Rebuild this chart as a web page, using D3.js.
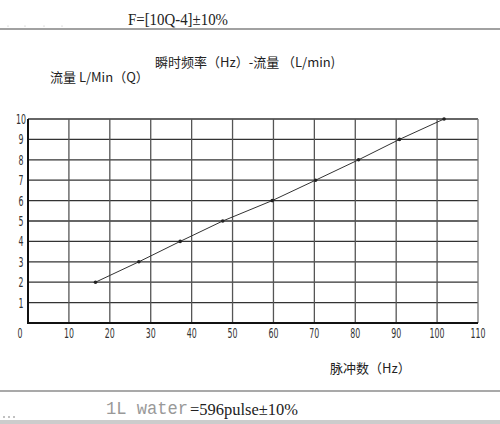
<!DOCTYPE html>
<html>
<head>
<meta charset="utf-8">
<script src="https://cdn.jsdelivr.net/npm/d3@7"></script>
<style>
body { margin: 0; background: #fff; }
svg { display: block; }
.tick-label { font-family: "DejaVu Sans Condensed", "Liberation Sans", sans-serif; font-size: 14.5px; fill: #333; }
.cjk { font-family: "Noto Sans CJK SC", sans-serif; font-size: 13px; fill: #222; }
.serif { font-family: "Liberation Serif", serif; font-size: 17px; fill: #222; }
</style>
</head>
<body>
<div id="chart"></div>
<script>
// pulse frequency (Hz) read for each flow value (L/min)
var frequency = [16.5, 27.1, 37.2, 47.6, 59.7, 70.3, 80.8, 90.8, 101.7];
var flow = [2, 3, 4, 5, 6, 7, 8, 9, 10];
var xTicks = [10, 20, 30, 40, 50, 60, 70, 80, 90, 100, 110];
var yTicks = [1, 2, 3, 4, 5, 6, 7, 8, 9, 10];

var width = 500, height = 424;

var svg = d3.select("#chart").append("svg")
	.attr("width", width)
	.attr("height", height);

var x = d3.scaleLinear().domain([0, 110]).range([28, 478]);
var y = d3.scaleLinear().domain([0, 10]).range([323, 119]);

// header formula and rule
svg.append("text").attr("class", "serif")
	.attr("x", 128).attr("y", 25)
	.attr("textLength", 100).attr("lengthAdjust", "spacingAndGlyphs")
	.text("F=[10Q-4]±10%");
svg.append("line")
	.attr("x1", 0).attr("x2", width).attr("y1", 29).attr("y2", 29)
	.style("stroke", "#444").style("stroke-width", 1.2);
svg.selectAll(".dot-mark").data([8, 25, 44, 62])
	.enter().append("circle")
	.attr("cx", d => d).attr("cy", 26).attr("r", 0.5)
	.style("fill", "#aaa");

// titles
svg.append("text").attr("class", "cjk")
	.attr("x", 155).attr("y", 67)
	.text("瞬时频率（Hz）-流量 （L/min)");
svg.append("text").attr("class", "cjk")
	.attr("x", 50).attr("y", 82)
	.text("流量 L/Min（Q）");
svg.append("text").attr("class", "cjk")
	.attr("x", 330).attr("y", 373)
	.text("脉冲数（Hz）");

// grid
svg.selectAll(".hgrid").data(yTicks)
	.enter().append("line")
	.attr("x1", x(0)).attr("x2", x(110))
	.attr("y1", d => y(d)).attr("y2", d => y(d))
	.style("stroke", "#333").style("stroke-width", 1.3);
svg.selectAll(".vgrid").data(xTicks)
	.enter().append("line")
	.attr("x1", d => x(d)).attr("x2", d => x(d))
	.attr("y1", y(0)).attr("y2", y(10))
	.style("stroke", d => d === 110 ? "#777" : "#555").style("stroke-width", 1.3);

// axes
svg.append("line")
	.attr("x1", x(0)).attr("x2", x(0)).attr("y1", y(0) + 1).attr("y2", y(10))
	.style("stroke", "#111").style("stroke-width", 2);
svg.append("line")
	.attr("x1", x(0)).attr("x2", x(110)).attr("y1", y(0)).attr("y2", y(0))
	.style("stroke", "#111").style("stroke-width", 2);

// tick labels, narrow like the CAD lettering
function narrow(sel) {
	sel.attr("textLength", d => String(d).length * 5)
		.attr("lengthAdjust", "spacingAndGlyphs");
}
svg.selectAll(".xlab").data(xTicks)
	.enter().append("text").attr("class", "tick-label")
	.attr("x", d => x(d)).attr("y", y(0) + 15)
	.attr("text-anchor", "middle")
	.text(d => d)
	.call(narrow);
svg.selectAll(".ylab").data(yTicks)
	.enter().append("text").attr("class", "tick-label")
	.attr("x", 21).attr("y", d => y(d) + 5)
	.attr("text-anchor", "middle")
	.text(d => d)
	.call(narrow);
svg.selectAll(".zero").data([0])
	.enter().append("text").attr("class", "tick-label")
	.attr("x", 20).attr("y", y(0) + 15)
	.attr("text-anchor", "middle")
	.text(d => d)
	.call(narrow);

// curve
var pts = frequency.map((f, i) => [f, flow[i]]);
svg.append("path")
	.datum(pts)
	.attr("d", d3.line().x(d => x(d[0])).y(d => y(d[1])))
	.style("fill", "none").style("stroke", "#333").style("stroke-width", 1);
svg.selectAll(".pt").data(pts)
	.enter().append("circle")
	.attr("cx", d => x(d[0])).attr("cy", d => y(d[1])).attr("r", 1.8)
	.style("fill", "#222");

// footer
svg.append("line")
	.attr("x1", 0).attr("x2", width).attr("y1", 391).attr("y2", 391)
	.style("stroke", "#555").style("stroke-width", 1.2);
svg.append("text")
	.attr("x", 106).attr("y", 414)
	.attr("textLength", 82).attr("lengthAdjust", "spacingAndGlyphs")
	.style("font-family", "Liberation Mono, monospace").style("font-size", "18px").style("fill", "#999")
	.text("1L water");
svg.append("text").attr("class", "serif")
	.attr("x", 190).attr("y", 415)
	.attr("textLength", 108).attr("lengthAdjust", "spacingAndGlyphs")
	.text("=596pulse±10%");
svg.selectAll(".foot-dot").data([4, 9, 14])
	.enter().append("circle")
	.attr("cx", d => d).attr("cy", 417).attr("r", 0.7)
	.style("fill", "#555");
svg.append("rect")
	.attr("x", 0).attr("y", 420).attr("width", width).attr("height", 4)
	.style("fill", "#ccc");
</script>
</body>
</html>
